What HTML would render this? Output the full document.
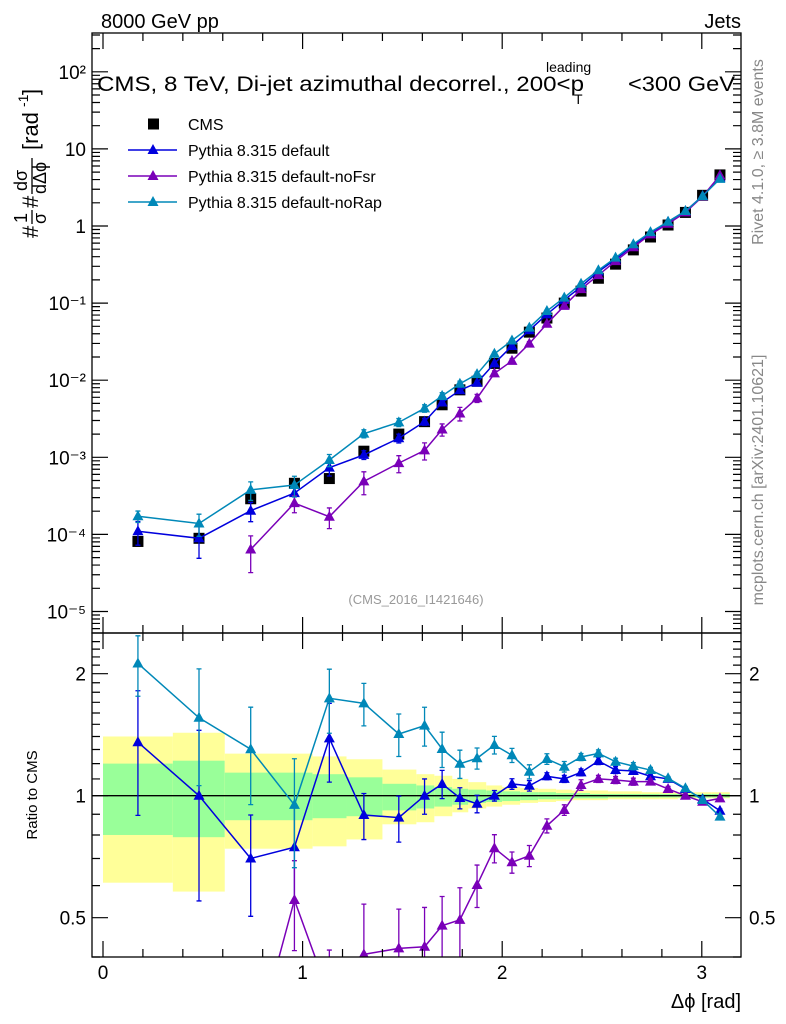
<!DOCTYPE html>
<html><head><meta charset="utf-8"><style>
html,body{margin:0;padding:0;background:#fff;overflow:hidden;width:786px;height:1024px;}
svg{display:block;}
svg text{font-family:"Liberation Sans",sans-serif;}
</style></head><body>
<svg id="chart" width="786" height="1024" xmlns="http://www.w3.org/2000/svg">
<rect width="786" height="1024" fill="#fff"/>
<text x="101" y="28" font-size="20">8000 GeV pp</text>
<text x="741" y="28" font-size="20" text-anchor="end">Jets</text>
<g>
<text x="97" y="91" font-size="21" textLength="487" lengthAdjust="spacingAndGlyphs">CMS, 8 TeV, Di-jet azimuthal decorrel., 200&lt;p</text>
<text x="546" y="72" font-size="14">leading</text>
<text x="574" y="104" font-size="14">T</text>
<text x="628" y="91" font-size="21" textLength="107" lengthAdjust="spacingAndGlyphs">&lt;300 GeV</text>
</g>
<g transform="translate(38,238) rotate(-90)" font-size="22">
<text x="0" y="0">#</text>
<text x="15" y="-11" font-size="18">1</text>
<line x1="14" x2="28" y1="-6" y2="-6" stroke="#000" stroke-width="1.3"/>
<text x="14" y="8" font-size="18">σ</text>
<text x="30" y="0">#</text>
<text x="47" y="-11" font-size="18">dσ</text>
<line x1="44" x2="80" y1="-6" y2="-6" stroke="#000" stroke-width="1.3"/>
<text x="44" y="8" font-size="18">dΔϕ</text>
<text x="88" y="0">[rad</text>
<text x="131" y="-10" font-size="14">-1</text>
<text x="143" y="0">]</text>
</g>
<text transform="translate(763,152) rotate(-90)" font-size="16" fill="#888" text-anchor="middle">Rivet 4.1.0, ≥ 3.8M events</text>
<text transform="translate(763,480) rotate(-90)" font-size="16" fill="#888" text-anchor="middle">mcplots.cern.ch [arXiv:2401.10621]</text>
<text x="416" y="604" font-size="13" fill="#999" text-anchor="middle">(CMS_2016_I1421646)</text>
<text transform="translate(37,795) rotate(-90)" font-size="15" text-anchor="middle">Ratio to CMS</text>
<text x="741" y="1008" font-size="20" text-anchor="end">Δϕ [rad]</text>
<g id="g"></g>
</svg>
<script>
const xs=[0.175,0.481,0.740,0.959,1.134,1.307,1.482,1.611,1.699,1.788,1.874,1.961,2.049,2.136,2.224,2.311,2.395,2.482,2.568,2.657,2.743,2.831,2.918,3.004,3.091];
const edges=[0,0.35,0.61,1.05,1.22,1.4,1.57,1.66,1.75,1.83,1.92,2.0,2.09,2.18,2.27,2.35,2.44,2.53,2.61,2.7,2.79,2.88,2.96,3.05,3.14];
const cms=[8.1e-5,8.9e-5,2.9e-4,4.6e-4,5.3e-4,1.2e-3,2.0e-3,2.9e-3,4.8e-3,7.5e-3,9.7e-3,1.65e-2,2.6e-2,4.2e-2,6.4e-2,0.10,0.143,0.21,0.32,0.49,0.72,1.03,1.5,2.5,4.6];
const ratioDefault=[1.355,1.0,0.70,0.746,1.385,0.896,0.883,1.0,1.069,0.987,0.955,1.0,1.069,1.058,1.117,1.10,1.142,1.218,1.157,1.151,1.117,1.10,1.039,0.981,0.918];
const ratioNoFsr=[null,null,0.22,0.553,0.32,0.406,0.42,0.424,0.478,0.494,0.602,0.742,0.685,0.711,0.843,0.922,1.063,1.10,1.093,1.083,1.083,1.039,1.0,0.966,0.985];
const ratioNoRap=[2.12,1.557,1.302,0.949,1.739,1.69,1.42,1.489,1.304,1.199,1.237,1.334,1.258,1.146,1.232,1.179,1.246,1.272,1.213,1.183,1.157,1.104,1.043,0.976,0.888];
const errDefault=[0.34,0.45,0.28,0.27,0.22,0.13,0.13,0.1,0.08,0.06,0.05,0.03,0.03,0.03,0.02,0.02,0.02,0.02,0.02,0.015,0.015,0.01,0.01,0.01,0.01];
const errNoFsr=[0.5,0.5,0.5,0.25,0.3,0.33,0.25,0.25,0.18,0.2,0.12,0.08,0.06,0.06,0.04,0.03,0.03,0.02,0.02,0.02,0.015,0.015,0.01,0.01,0.01];
const errNoRap=[0.17,0.32,0.27,0.3,0.18,0.12,0.12,0.11,0.1,0.08,0.06,0.05,0.04,0.04,0.03,0.03,0.02,0.02,0.02,0.02,0.015,0.01,0.01,0.01,0.01];
const yellowHi=[1.40,1.43,1.27,1.25,1.23,1.16,1.13,1.12,1.10,1.08,1.06,1.05,1.045,1.04,1.035,1.03,1.03,1.025,1.025,1.02,1.02,1.02,1.02,1.02,1.02];
const yellowLo=[0.61,0.58,0.74,0.75,0.78,0.85,0.86,0.89,0.91,0.93,0.94,0.95,0.96,0.965,0.97,0.975,0.975,0.98,0.98,0.98,0.98,0.985,0.985,0.985,0.985];
const greenHi=[1.2,1.22,1.14,1.13,1.11,1.07,1.06,1.05,1.04,1.035,1.03,1.025,1.02,1.02,1.015,1.015,1.01,1.01,1.01,1.01,1.01,1.01,1.01,1.01,1.01];
const greenLo=[0.8,0.79,0.87,0.88,0.89,0.92,0.93,0.94,0.95,0.96,0.965,0.97,0.975,0.98,0.98,0.985,0.985,0.99,0.99,0.99,0.99,0.99,0.99,0.99,0.99];
const mainTickLabels=["10⁻⁵","10⁻⁴","10⁻³","10⁻²","10⁻¹","1","10","10²"];
const ratioTickLabels=["0.5","1","2"];
const xTickLabels=["0","1","2","3"];

const L=92,R=741,T=33,MB=633,RB=957;
const sx=v=>103+v*199.6;
const sy=v=>226-Math.log10(v)*77.1;
const sr=v=>795.7-Math.log2(v)*122;
const g=document.getElementById('g');
const NS='http://www.w3.org/2000/svg';
function mk(tag,at,parent){const e=document.createElementNS(NS,tag);for(const k in at)e.setAttribute(k,at[k]);(parent||g).appendChild(e);return e;}

const defs=mk('defs',{});
const c1=mk('clipPath',{id:'cm'},defs);mk('rect',{x:L,y:T,width:R-L,height:MB-T},c1);
const c2=mk('clipPath',{id:'cr'},defs);mk('rect',{x:L,y:MB,width:R-L,height:RB-MB},c2);
const gm=mk('g',{'clip-path':'url(#cm)'});


const gr=mk('g',{'clip-path':'url(#cr)'});



for(let i=0;i<xs.length;i++){
  const x0=sx(edges[i]),x1=sx(edges[i+1]);
  const yb=mk('rect',{x:x0,y:sr(yellowHi[i]),width:x1-x0,height:sr(yellowLo[i])-sr(yellowHi[i]),fill:'#ffff99'},gr);
  
  
  const gb=mk('rect',{x:x0,y:sr(greenHi[i]),width:x1-x0,height:sr(greenLo[i])-sr(greenHi[i]),fill:'#99ff99'},gr);
  
  
}
const ul=mk('line',{x1:L,x2:R,y1:sr(1),y2:sr(1),stroke:'#000','stroke-width':1.3},gr);



for(let i=0;i<xs.length;i++){
  const s=mk('rect',{x:sx(xs[i])-5.5,y:sy(cms[i])-5.5,width:11,height:11,fill:'#000'},gm);
  
  
}

function tri(parent,x,y,col){return mk('path',{d:`M${x},${y-6} L${x+5.5},${y+4} L${x-5.5},${y+4}Z`,fill:col},parent);}
const series=[['default',ratioDefault,errDefault,'#0000dd'],['nofsr',ratioNoFsr,errNoFsr,'#7a00b8'],['norap',ratioNoRap,errNoRap,'#0088b8']];
for(const [nm,rat,err,col] of series){
  let pm='',pr='';
  for(let i=0;i<xs.length;i++){
    if(rat[i]==null)continue;
    const x=sx(xs[i]);
    pm+=(pm?'L':'M')+x+','+sy(cms[i]*rat[i]);
    pr+=(pr?'L':'M')+x+','+sr(rat[i]);
  }
  const lm=mk('path',{d:pm,fill:'none',stroke:col,'stroke-width':1.5},gm);
  
  
  const lr=mk('path',{d:pr,fill:'none',stroke:col,'stroke-width':1.5},gr);
  
  
  for(let i=0;i<xs.length;i++){
    if(rat[i]==null)continue;
    const x=sx(xs[i]);const v=cms[i]*rat[i];const lo=Math.max(1-err[i],0.05),hi=1+err[i];
    for(const [par,f,val] of [[gm,sy,v],[gr,sr,rat[i]]]){
      const y1=f(val*hi),y2=f(val*lo);
      const e=mk('path',{d:`M${x},${y1}L${x},${y2}M${x-2.5},${y1}L${x+2.5},${y1}M${x-2.5},${y2}L${x+2.5},${y2}`,stroke:col,'stroke-width':1.3,fill:'none'},par);
      
      
      const t=tri(par,x,f(val),col);
      
      
    }
  }
}

const f1=mk('rect',{x:L,y:T,width:R-L,height:MB-T,fill:'none',stroke:'#000','stroke-width':1.3});


const f2=mk('rect',{x:L,y:MB,width:R-L,height:RB-MB,fill:'none',stroke:'#000','stroke-width':1.3});



let tk='';
for(let d=-6;d<=2;d++){
  for(let m=1;m<10;m++){
    const y=sy(m*Math.pow(10,d));if(y<T||y>MB)continue;
    const len=m==1?16:8;
    tk+=`M${L},${y}h${len}M${R},${y}h${-len}`;
  }
}
mainTickLabels.forEach((lab,i)=>{
  const y=sy(Math.pow(10,i-5));
  const t=mk('text',{x:L-6,y:y+7,'font-size':19,'text-anchor':'end'});t.textContent=lab;
  
  
});
for(let v=0.4;v<=2.5;v+=0.1){
  const y=sr(v);if(y<MB||y>RB)continue;
  const maj=[0.5,1,2].some(q=>Math.abs(q-v)<1e-6);
  const len=maj?16:8;
  tk+=`M${L},${y}h${len}M${R},${y}h${-len}`;
}
ratioTickLabels.forEach(lab=>{
  const y=sr(parseFloat(lab));
  const t=mk('text',{x:L-6,y:y+7,'font-size':19,'text-anchor':'end'});t.textContent=lab;
  
  
  const t2=mk('text',{x:R+8,y:y+7,'font-size':19});t2.textContent=lab;
  
  
});
for(let k=0;k<=16;k++){
  const v=k*0.2;const x=sx(v);if(x>R)continue;
  const len=(k%5==0)?16:8;
  tk+=`M${x},${T}v${len}M${x},${MB}v${-len}M${x},${MB}v${len}M${x},${RB}v${-len}`;
}
xTickLabels.forEach(lab=>{
  const t=mk('text',{x:sx(parseFloat(lab)),y:979,'font-size':19,'text-anchor':'middle'});t.textContent=lab;
  
  
});
const ticks=mk('path',{d:tk,stroke:'#000','stroke-width':1.2,fill:'none'});



const leg=[['CMS',null],['Pythia 8.315 default','#0000dd'],['Pythia 8.315 default-noFsr','#7a00b8'],['Pythia 8.315 default-noRap','#0088b8']];
leg.forEach(([lab,col],i)=>{
  const y=124+i*26;
  const lg=mk('g',{});
  
  
  if(col){mk('line',{x1:128,x2:177,y1:y,y2:y,stroke:col,'stroke-width':1.5},lg);tri(lg,153,y,col);}
  else mk('rect',{x:148,y:y-5.5,width:11,height:11,fill:'#000'},lg);
  const t=mk('text',{x:188,y:y+6,'font-size':16},lg);t.textContent=lab;
});
</script>
</body></html>
